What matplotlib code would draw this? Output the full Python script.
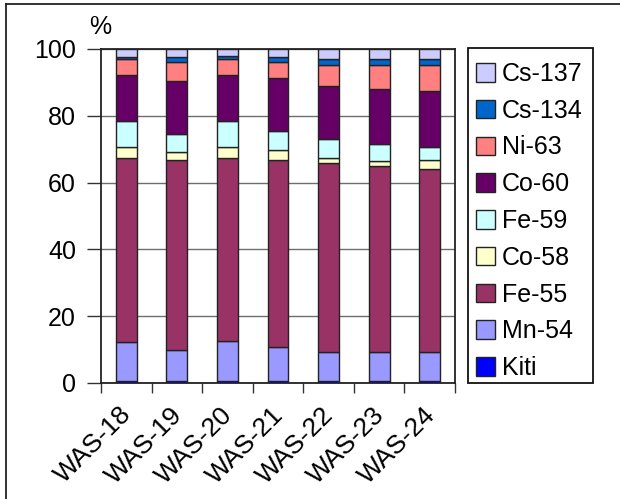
import matplotlib
matplotlib.use('Agg')
import matplotlib.pyplot as plt
import matplotlib.transforms as mtransforms
from matplotlib.lines import Line2D
from matplotlib.patches import Rectangle
import numpy as np

plt.rcParams['font.family'] = ['Liberation Sans', 'DejaVu Sans']

samples = ['WAS-18', 'WAS-19', 'WAS-20', 'WAS-21', 'WAS-22', 'WAS-23', 'WAS-24']
nuclides = ['Kiti', 'Mn-54', 'Fe-55', 'Co-58', 'Fe-59', 'Co-60', 'Ni-63', 'Cs-134', 'Cs-137']

# share of each nuclide, % (bottom to top of the stack)
kiti   = [0.7, 0.7, 0.7, 0.7, 0.7, 0.7, 0.7]
mn54   = [11.7, 9.3, 11.8, 10.2, 8.6, 8.6, 8.6]
fe55   = [55.1, 56.7, 54.9, 55.8, 56.6, 55.8, 54.9]
co58   = [3.1, 2.4, 3.2, 3.1, 1.5, 1.5, 2.5]
fe59   = [7.9, 5.5, 7.9, 5.5, 5.6, 4.9, 3.9]
co60   = [13.7, 15.9, 13.7, 15.9, 15.9, 16.6, 16.7]
ni63   = [4.7, 5.6, 4.7, 4.9, 6.4, 7.2, 8.0]
cs134  = [0.8, 1.6, 0.9, 1.6, 1.6, 1.6, 1.6]
cs137  = [2.3, 2.3, 2.2, 2.3, 3.1, 3.1, 3.1]

series = [kiti, mn54, fe55, co58, fe59, co60, ni63, cs134, cs137]
colors = ['#0000FF', '#9999FF', '#993366', '#FFFFCC', '#CCFFFF',
          '#660066', '#FF8080', '#0066CC', '#CCCCFF']

W, H = 620, 499
fig = plt.figure(figsize=(W / 100, H / 100), dpi=100)
ax = fig.add_axes([101 / W, (H - 383) / H, 354 / W, 334 / H])

x = np.arange(len(samples))
bottom = np.zeros(len(samples))
bars = []
for name, vals, col in zip(nuclides, series, colors):
    b = ax.bar(x, vals, width=0.41, bottom=bottom, color=col,
               edgecolor='#222222', linewidth=1.0, label=name, zorder=3)
    bars.append(b)
    bottom += np.array(vals)

ax.set_xlim(-0.5, len(samples) - 0.5)
ax.set_ylim(0, 100)
ax.set_yticks([0, 20, 40, 60, 80, 100])
ax.yaxis.grid(True, color='#6e6e6e', linewidth=1.0, zorder=0)
ax.set_axisbelow(True)

# tick marks sit between categories, labels at the bar centres
ax.set_xticks(x)
ax.set_xticks(np.arange(len(samples) + 1) - 0.5, minor=True)
ax.tick_params(axis='x', which='major', length=0, pad=14, labelsize=19)
ax.tick_params(axis='x', which='minor', length=7, width=1.0, color='#333333')
ax.tick_params(axis='y', length=10, width=1.0, color='#333333', pad=8, labelsize=18)
ax.set_xticklabels(samples, rotation=45, ha='right', va='top')
shift = mtransforms.ScaledTranslation(10 / 100, 0, fig.dpi_scale_trans)
for lbl in ax.get_xticklabels():
    lbl.set_transform(lbl.get_transform() + shift)

for side in ['top', 'right', 'bottom', 'left']:
    ax.spines[side].set_color('#222222')
    ax.spines[side].set_linewidth(1.3)

fig.text(100 / W, 1 - 27 / H, '%', fontsize=18, ha='center', va='center')

# legend entries without their own frame; the box is drawn separately
leg = ax.legend(bars[::-1], nuclides[::-1], loc='upper left',
                bbox_to_anchor=(476 / W, 1 - 62 / H), bbox_transform=fig.transFigure,
                fontsize=18, frameon=False, handlelength=0.76, handleheight=0.76,
                handletextpad=0.28, labelspacing=0.51, borderpad=0,
                borderaxespad=0)
fig.add_artist(Rectangle((468 / W, 1 - 383 / H), 125 / W, 335 / H,
                         transform=fig.transFigure, facecolor='none',
                         edgecolor='#111111', linewidth=1.3))

# frame around the chart area
fig.add_artist(Line2D([6 / W, 1], [1 - 4 / H, 1 - 4 / H], color='#222222',
                      linewidth=1.3, transform=fig.transFigure))
fig.add_artist(Line2D([6 / W, 6 / W], [0, 1 - 4 / H], color='#222222',
                      linewidth=1.3, transform=fig.transFigure))

fig.savefig('out.png', dpi=100)
